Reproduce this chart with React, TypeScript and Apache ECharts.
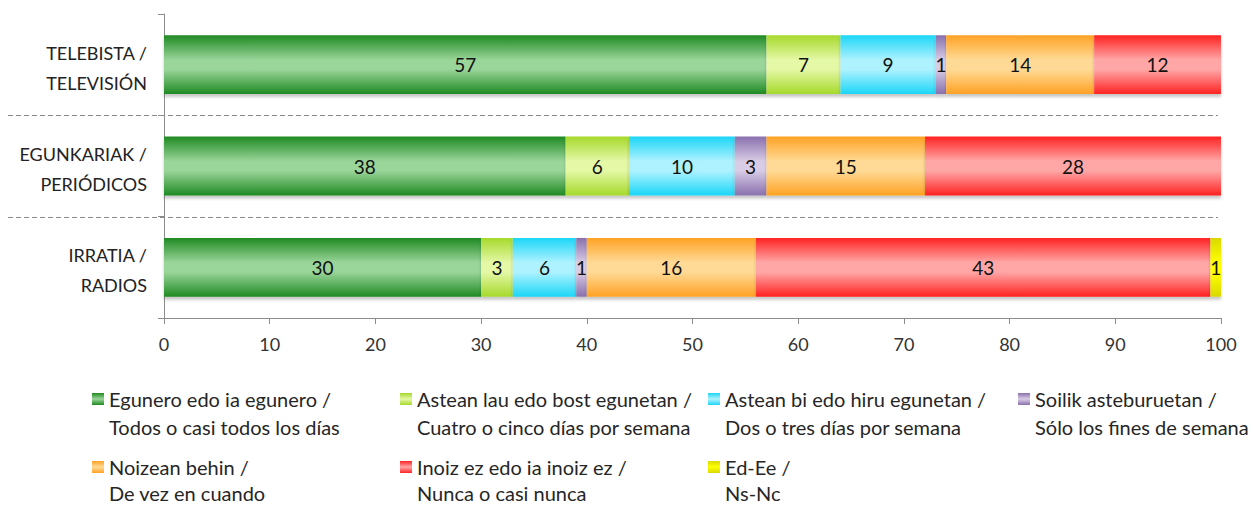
import React, { useEffect, useRef } from "react";
import * as echarts from "echarts";

const categories = ["TELEBISTA /\nTELEVISIÓN", "EGUNKARIAK /\nPERIÓDICOS", "IRRATIA /\nRADIOS"];

const seriesNames = [
  "Egunero edo ia egunero /\nTodos o casi todos los días",
  "Astean lau edo bost egunetan /\nCuatro o cinco días por semana",
  "Astean bi edo hiru egunetan /\nDos o tres días por semana",
  "Soilik asteburuetan /\nSólo los fines de semana",
  "Noizean behin /\nDe vez en cuando",
  "Inoiz ez edo ia inoiz ez /\nNunca o casi nunca",
  "Ed-Ee /\nNs-Nc",
];

const dailyValues = [57, 38, 30];
const fourFiveValues = [7, 6, 3];
const twoThreeValues = [9, 10, 6];
const weekendValues = [1, 3, 1];
const sometimesValues = [14, 15, 16];
const neverValues = [12, 28, 43];
const nsncValues = [0, 0, 1];

const seriesValues = [
  dailyValues,
  fourFiveValues,
  twoThreeValues,
  weekendValues,
  sometimesValues,
  neverValues,
  nsncValues,
];

const xTicks = [0, 10, 20, 30, 40, 50, 60, 70, 80, 90, 100];

// [edge, center]
const palette: [string, string][] = [
  ["#1f8a22", "#9ad59a"],
  ["#a6d92c", "#e4f8a6"],
  ["#1cd6f7", "#aef2ff"],
  ["#8a70ad", "#d8cce6"],
  ["#ffa224", "#ffda96"],
  ["#ff2222", "#ffa7a7"],
  ["#d9d900", "#ffff00"],
];

const legendCols = [92, 400, 708, 1018];
const legendRows = [399, 467];
const legendLineHeights = [28, 26];

const FONT = "Lato";

export default function App() {
  const ref = useRef<HTMLDivElement>(null);

  useEffect(() => {
    if (!ref.current) return;
    const chart = echarts.init(ref.current, null, { renderer: "svg" });

    const grad = (edge: string, center: string) =>
      new echarts.graphic.LinearGradient(0, 0, 0, 1, [
        { offset: 0, color: edge },
        { offset: 0.42, color: center },
        { offset: 0.58, color: center },
        { offset: 1, color: edge },
      ]);

    const iconGrad = (edge: string, center: string, h: number) => {
      const f = 12 / h;
      return new echarts.graphic.LinearGradient(0, 0, 0, 1, [
        { offset: 0, color: edge },
        { offset: f / 2, color: center },
        { offset: f, color: edge },
        { offset: 1, color: edge },
      ]);
    };

    const series = seriesNames.map((name, i) => ({
      name,
      type: "bar",
      stack: "total",
      barCategoryGap: "42%",
      data: seriesValues[i],
      itemStyle: {
        color: grad(palette[i][0], palette[i][1]),
        shadowColor: "rgba(0,0,0,0.22)",
        shadowBlur: 3,
        shadowOffsetY: 3,
      },
      label: {
        show: true,
        position: "inside",
        color: "#111",
        fontFamily: FONT,
        fontSize: 19,
        formatter: (p: any) => (p.value ? String(p.value) : ""),
      },
    }));

    const legends = seriesNames.map((name, i) => {
      const col = i < 4 ? i : i - 4;
      const row = i < 4 ? 0 : 1;
      const lh = legendLineHeights[row];
      const h = 12 + lh;
      // 12x12 square at the top of a 12xh box, so it lines up with the first text line
      const icon = `path://M0,0L12,0L12,12L0,12Z M0,${h}L12,${h}`;
      return {
        data: [name],
        orient: "vertical",
        left: legendCols[col],
        top: legendRows[row] - lh / 2,
        padding: 0,
        itemWidth: 12,
        itemHeight: h,
        itemGap: 0,
        icon,
        selectedMode: false,
        itemStyle: {
          color: iconGrad(palette[i][0], palette[i][1], h),
          borderWidth: 0,
        },
        textStyle: {
          fontFamily: FONT,
          fontSize: 20,
          lineHeight: lh,
          color: "#262626",
        },
      };
    });

    chart.setOption({
      animation: false,
      backgroundColor: "#ffffff",
      grid: { left: 164, right: 37, top: 14, bottom: 188, containLabel: false },
      xAxis: {
        type: "value",
        min: 0,
        max: 100,
        interval: 10,
        axisLine: { show: true, lineStyle: { color: "#8c8c8c", width: 1 } },
        axisTick: { show: true, length: 6, lineStyle: { color: "#8c8c8c" } },
        splitLine: { show: false },
        axisLabel: {
          color: "#333",
          fontFamily: FONT,
          fontSize: 18,
          margin: 17,
          formatter: (v: number) => (xTicks.includes(v) ? String(v) : ""),
        },
      },
      yAxis: {
        type: "category",
        data: categories,
        inverse: true,
        axisLine: { show: true, lineStyle: { color: "#8c8c8c", width: 1 } },
        axisTick: { show: true, length: 6, lineStyle: { color: "#8c8c8c" } },
        axisLabel: {
          color: "#222",
          fontFamily: FONT,
          fontSize: 18,
          margin: 17,
          align: "right",
          formatter: (v: string) => {
            const parts = v.split("\n");
            return `{l1|${parts[0]}}\n{l2|${parts[1] || ""}}`;
          },
          rich: {
            l1: { lineHeight: 36, fontFamily: FONT, fontSize: 18, color: "#222", align: "right" },
            l2: { lineHeight: 24, fontFamily: FONT, fontSize: 18, color: "#222", align: "right" },
          },
        },
      },
      legend: legends,
      series,
    });

    const centers = categories.map((c) => {
      const v = chart.convertToPixel({ yAxisIndex: 0 }, c as any);
      return Array.isArray(v) ? v[1] : (v as number);
    });
    const graphics: any[] = [];
    for (let k = 0; k < centers.length - 1; k++) {
      const y = Math.round((centers[k] + centers[k + 1]) / 2) + 0.5;
      graphics.push({
        type: "line",
        shape: { x1: 8, y1: y, x2: 1218, y2: y },
        style: { stroke: "#8a8a8a", lineWidth: 1, lineDash: [5, 3] },
        z: 0,
      });
    }
    chart.setOption({ graphic: graphics });

    return () => chart.dispose();
  }, []);

  return (
    <div
      ref={ref}
      style={{ position: "fixed", left: 0, top: 0, width: 1258, height: 506 }}
    />
  );
}
